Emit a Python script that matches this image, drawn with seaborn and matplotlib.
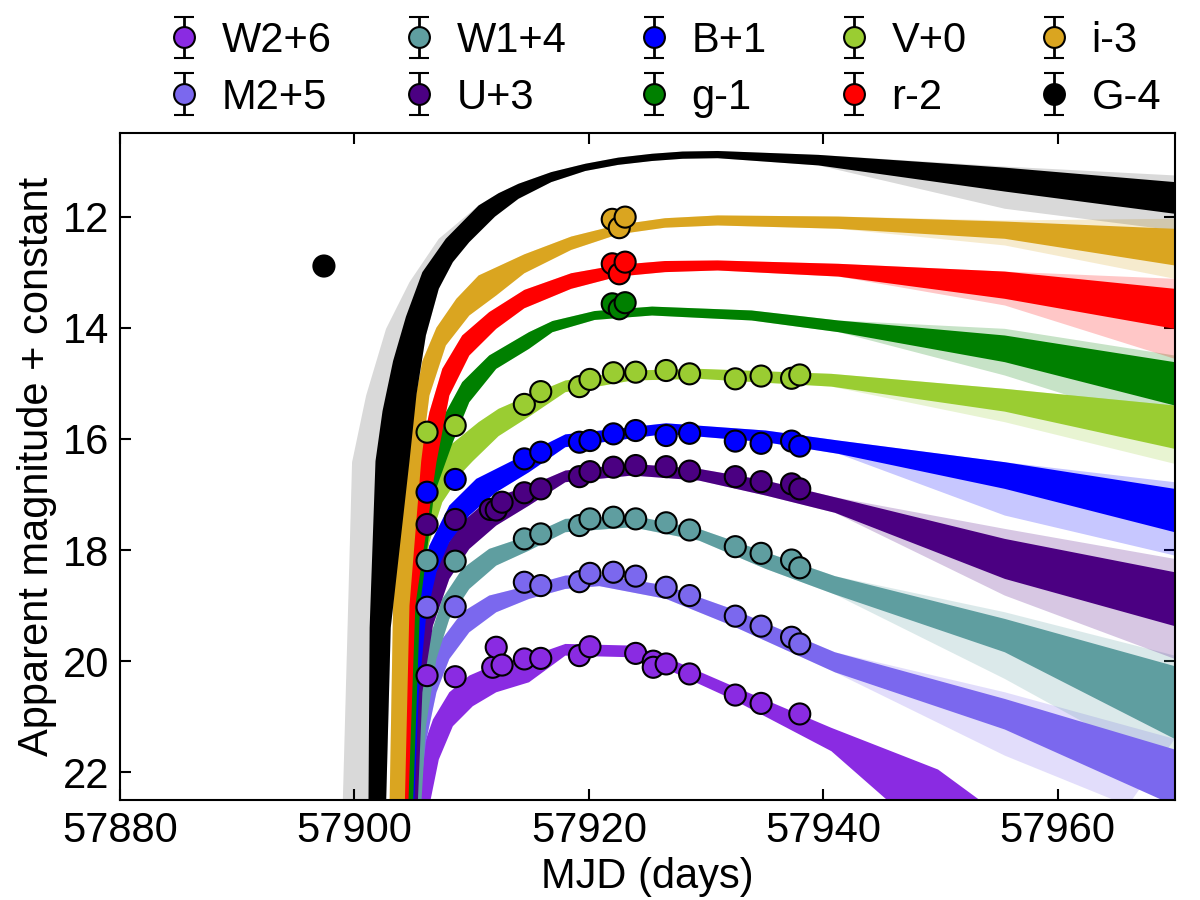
import numpy as np
import pandas as pd
import seaborn as sns
import matplotlib
matplotlib.use('Agg')
import matplotlib.pyplot as plt

sns.set_theme(style='ticks')
plt.rcParams['font.family'] = ['Liberation Sans', 'DejaVu Sans']
plt.rcParams['text.color'] = 'black'
plt.rcParams['axes.labelcolor'] = 'black'

# ---------------- photometry (plotted value = mag + offset) ----------------
bands = ['W2', 'M2', 'W1', 'U', 'B', 'g', 'V', 'r', 'i', 'G']
labels = ['W2+6', 'M2+5', 'W1+4', 'U+3', 'B+1', 'g-1', 'V+0', 'r-2', 'i-3', 'G-4']
colors = ['blueviolet', 'mediumslateblue', 'cadetblue', 'indigo', 'blue',
          'green', 'yellowgreen', 'red', 'goldenrod', 'black']

t_uv = [57906.2, 57908.6, 57914.5, 57915.9, 57919.2, 57920.1, 57922.1,
        57924.0, 57926.6, 57928.6, 57932.5, 57934.7, 57937.3, 57938.0]

W2_t = [57906.2, 57908.6, 57911.8, 57912.1, 57912.6, 57914.5, 57915.9, 57919.2,
        57920.1, 57924.0, 57925.5, 57925.5, 57926.6, 57928.6, 57932.5, 57934.7, 57938.0]
W2_m = [20.26, 20.28, 20.11, 19.75, 20.07, 19.96, 19.95, 19.90,
        19.74, 19.86, 20.00, 20.11, 20.05, 20.23, 20.61, 20.76, 20.95]
M2_m = [19.03, 19.02, 18.58, 18.64, 18.57, 18.42, 18.40,
        18.47, 18.67, 18.82, 19.19, 19.37, 19.57, 19.69]
W1_m = [18.19, 18.20, 17.80, 17.71, 17.56, 17.44, 17.41,
        17.44, 17.51, 17.64, 17.94, 18.06, 18.18, 18.32]
U_t = [57906.2, 57908.6, 57911.6, 57912.1, 57912.6, 57914.5, 57915.9, 57919.2, 57920.1,
       57922.1, 57924.0, 57926.6, 57928.6, 57932.5, 57934.7, 57937.3, 57938.0]
U_m = [17.54, 17.45, 17.27, 17.28, 17.14, 16.97, 16.90, 16.68, 16.59,
       16.51, 16.48, 16.50, 16.58, 16.68, 16.77, 16.81, 16.90]
B_m = [16.96, 16.73, 16.36, 16.24, 16.06, 16.03, 15.91,
       15.85, 15.94, 15.90, 16.04, 16.08, 16.04, 16.13]
V_m = [15.88, 15.76, 15.38, 15.15, 15.06, 14.93, 14.81,
       14.80, 14.77, 14.83, 14.92, 14.87, 14.91, 14.85]
t_opt = [57922.0, 57922.6, 57923.1]
g_m = [13.57, 13.66, 13.55]
r_m = [12.85, 13.03, 12.82]
i_m = [12.05, 12.20, 12.01]
G_t = [57897.4]
G_m = [12.89]

# ---------------- model bundles: bright edge / faint edge (MJD, plotted mag) ----------------
W2_top = [(57904.7, 22.6), (57905.5, 21.77), (57906.7, 21.05), (57908.1, 20.56), (57909.8, 20.26),
          (57912.1, 20.05), (57914.9, 19.92), (57918, 19.69), (57923.7, 19.72), (57926.6, 19.93),
          (57932.2, 20.44), (57940.7, 21.2), (57949.8, 21.95), (57954, 22.6)]
W2_bot = [(57906.4, 22.6), (57907.2, 21.77), (57908.4, 21.17), (57910.1, 20.81), (57912.1, 20.56),
          (57914.9, 20.38), (57918, 19.9), (57923.7, 19.93), (57926.6, 20.14), (57932.2, 20.68),
          (57940.7, 21.62), (57946, 22.6)]
M2_top = [(57903.5, 22.6), (57905.0, 21.28), (57906.1, 20.32), (57907.5, 19.6), (57909.2, 19.12),
          (57911.5, 18.82), (57914.9, 18.64), (57918, 18.46), (57920.9, 18.44), (57926.6, 18.64),
          (57932.2, 19.06), (57941, 19.84), (57955.5, 20.68), (57970, 21.59)]
M2_bot = [(57905.5, 22.6), (57906.1, 21.46), (57907.0, 20.56), (57908.1, 19.96), (57909.8, 19.48),
          (57912.1, 19.12), (57914.9, 18.88), (57918, 18.7), (57920.9, 18.65), (57926.6, 18.88),
          (57932.2, 19.36), (57941, 20.2), (57955.5, 21.23), (57970, 22.6)]
W1_top = [(57905.0, 22.6), (57905.5, 20.68), (57906.4, 19.6), (57907.5, 18.88), (57909.2, 18.34),
          (57911.5, 17.98), (57914.9, 17.74), (57918, 17.44), (57923.7, 17.38), (57929.4, 17.62),
          (57935.1, 18.04), (57941, 18.47), (57955.5, 19.24), (57970, 20.09)]
W1_bot = [(57905.7, 22.6), (57906.1, 21.17), (57907.0, 19.96), (57908.1, 19.24), (57909.8, 18.7),
          (57912.1, 18.28), (57914.9, 18.01), (57918, 17.68), (57923.7, 17.59), (57929.4, 17.83),
          (57935.1, 18.34), (57941, 18.8), (57955.5, 19.84), (57970, 21.4)]
U_top = [(57904.7, 22.6), (57905.5, 19.96), (57906.4, 18.76), (57907.5, 18.04), (57909.2, 17.5),
         (57911.5, 17.08), (57914.9, 16.85), (57918, 16.57), (57923.7, 16.45), (57929.4, 16.54),
         (57935.1, 16.75), (57941, 17.05), (57955.5, 17.8), (57970, 18.4)]
U_bot = [(57905.4, 22.6), (57905.8, 20.56), (57906.7, 19.36), (57908.1, 18.52), (57909.8, 17.98),
         (57912.1, 17.56), (57914.9, 17.2), (57918, 16.78), (57923.7, 16.66), (57929.4, 16.75),
         (57935.1, 17.02), (57941, 17.33), (57955.5, 18.52), (57970, 19.37)]
B_top = [(57904.1, 22.6), (57904.7, 19.96), (57905.3, 18.76), (57906.4, 17.92), (57908.1, 17.2),
         (57910.4, 16.72), (57913.8, 16.36), (57918, 15.92), (57926.6, 15.72), (57935.1, 15.85),
         (57941.3, 16.03), (57955.5, 16.42), (57970, 16.9)]
B_bot = [(57905.1, 22.6), (57905.5, 20.56), (57906.1, 19.24), (57907.0, 18.4), (57908.1, 17.86),
         (57909.8, 17.38), (57912.1, 16.96), (57914.9, 16.6), (57918, 16.15), (57926.6, 15.91),
         (57935.1, 16.06), (57941.3, 16.27), (57955.5, 16.9), (57970, 17.68)]
V_top = [(57903.5, 22.6), (57904.1, 18.76), (57904.7, 17.56), (57905.4, 16.8), (57906.4, 16.45),
         (57907.8, 16.18), (57910.6, 15.7), (57912.3, 15.46), (57914.9, 15.22), (57918, 14.95),
         (57923.7, 14.77), (57929.4, 14.74), (57940.7, 14.83), (57955.5, 15.1), (57970, 15.4)]
V_bot = [(57904.7, 22.6), (57905.0, 19.96), (57905.5, 18.76), (57906.4, 17.86), (57907.5, 17.14),
         (57909.2, 16.6), (57910.1, 16.4), (57912.3, 15.95), (57914.9, 15.6), (57918, 15.16),
         (57923.7, 14.95), (57929.4, 14.92), (57940.7, 15.06), (57955.5, 15.51), (57970, 16.18)]
g_top = [(57903.6, 22.6), (57904.2, 19.0), (57905.2, 17.2), (57906.4, 16.42), (57907.5, 15.64),
         (57909.2, 14.98), (57911.5, 14.5), (57914.9, 14.08), (57916.9, 13.88), (57920.5, 13.70),
         (57925.4, 13.62), (57933.9, 13.69), (57941.3, 13.87), (57955.5, 14.14), (57970, 14.62)]
g_bot = [(57905.0, 22.6), (57905.6, 19.0), (57906.8, 17.0), (57908.4, 16.06), (57909.8, 15.34),
         (57912.1, 14.74), (57914.9, 14.38), (57916.9, 14.08), (57920.5, 13.86), (57925.4, 13.78),
         (57933.9, 13.87), (57941.3, 14.08), (57955.5, 14.62), (57970, 15.4)]
r_top = [(57903.3, 22.6), (57903.8, 19.0), (57904.6, 17.2), (57905.5, 16.42), (57906.4, 15.52),
         (57907.5, 14.74), (57909.2, 14.14), (57911.5, 13.72), (57914.5, 13.32), (57918.5, 13.02),
         (57922.5, 12.87), (57926.5, 12.8), (57931, 12.79), (57941.3, 12.85), (57955.5, 12.99),
         (57970, 13.3)]
r_bot = [(57904.6, 22.6), (57905.2, 19.0), (57907.0, 16.42), (57908.1, 15.22), (57909.8, 14.5),
         (57912.1, 14.02), (57914.5, 13.65), (57918.5, 13.3), (57922.5, 13.08), (57926.5, 13.0),
         (57931, 12.97), (57941.3, 13.08), (57955.5, 13.48), (57970, 14.02)]
i_top = [(57903.0, 22.6), (57903.3, 19.0), (57903.8, 17.0), (57904.3, 16.4), (57905.0, 15.5),
         (57905.8, 14.6), (57907.0, 14.0), (57908.7, 13.48), (57910.6, 13.06), (57914.5, 12.68),
         (57918.5, 12.36), (57922.5, 12.15), (57926.5, 12.03), (57931, 11.98), (57941.3, 12.0),
         (57955.5, 12.09), (57970, 12.22)]
i_bot = [(57904.3, 22.6), (57904.7, 19.0), (57905.7, 16.4), (57906.4, 15.22), (57907.8, 14.32),
         (57909.8, 13.78), (57912.1, 13.42), (57914.5, 13.02), (57918.5, 12.6), (57922.5, 12.32),
         (57926.5, 12.2), (57931, 12.16), (57941.3, 12.22), (57955.5, 12.4), (57970, 12.88)]
G_top = [(57901.2, 22.6), (57901.3, 19.4), (57901.8, 16.4), (57902.4, 15.5), (57903.3, 14.6),
         (57904.4, 13.8), (57905.8, 13.0), (57907.8, 12.4), (57910.6, 11.8), (57912.3, 11.58),
         (57914.0, 11.41), (57916.8, 11.2), (57919.7, 11.05), (57922.5, 10.94), (57925.4, 10.87),
         (57928.0, 10.83), (57931.0, 10.82), (57939.6, 10.89), (57955.5, 11.12), (57970, 11.38)]
G_bot = [(57902.7, 22.6), (57903.1, 19.4), (57904.7, 16.4), (57905.3, 15.2), (57906.1, 14.14),
         (57907.2, 13.3), (57908.4, 12.82), (57909.8, 12.46), (57912.0, 12.0), (57914.0, 11.68),
         (57916.8, 11.38), (57919.7, 11.18), (57922.5, 11.07), (57925.4, 11.0), (57928.0, 10.96),
         (57931.0, 10.95), (57939.6, 11.08), (57955.5, 11.55), (57970, 11.95)]

# sparse outlying realisations: right-hand ends of the bundle (top, bottom)
fringe_top = {'M2': [(57955.5, 20.56), (57970, 21.4)], 'W1': [(57955.5, 19.12), (57970, 19.9)],
              'U': [(57955.5, 17.62), (57970, 18.16)], 'B': [(57955.5, 16.42), (57970, 16.78)],
              'V': [(57955.5, 15.1), (57970, 15.4)], 'g': [(57955.5, 14.02), (57970, 14.5)],
              'r': [(57955.5, 12.99), (57970, 13.12)], 'i': [(57955.5, 12.07), (57970, 12.04)],
              'G': [(57955.5, 11.1), (57970, 11.26)]}
fringe_bot = {'M2': [(57955.5, 21.7), (57966, 22.6)], 'W1': [(57955.5, 20.32), (57970, 22.0)],
              'U': [(57955.5, 18.82), (57970, 19.96)], 'B': [(57955.5, 17.38), (57970, 18.1)],
              'V': [(57955.5, 15.7), (57970, 16.45)], 'g': [(57955.5, 14.86), (57970, 15.82)],
              'r': [(57955.5, 13.6), (57970, 14.56)], 'i': [(57955.5, 12.52), (57970, 13.12)],
              'G': [(57955.5, 11.86), (57970, 12.25)]}
G_rise_fringe = [(57899.0, 22.6), (57899.8, 16.42), (57901.0, 15.22), (57902.7, 14.02),
                 (57904.7, 13.18), (57907.2, 12.4), (57910.6, 11.8)]

tops = [W2_top, M2_top, W1_top, U_top, B_top, g_top, V_top, r_top, i_top, G_top]
bots = [W2_bot, M2_bot, W1_bot, U_bot, B_bot, g_bot, V_bot, r_bot, i_bot, G_bot]
draw_order = ['W2', 'M2', 'W1', 'U', 'B', 'V', 'g', 'r', 'i', 'G']

pts = pd.concat([
    pd.DataFrame({'mjd': W2_t, 'mag': W2_m, 'band': 'W2'}),
    pd.DataFrame({'mjd': t_uv, 'mag': M2_m, 'band': 'M2'}),
    pd.DataFrame({'mjd': t_uv, 'mag': W1_m, 'band': 'W1'}),
    pd.DataFrame({'mjd': U_t, 'mag': U_m, 'band': 'U'}),
    pd.DataFrame({'mjd': t_uv, 'mag': B_m, 'band': 'B'}),
    pd.DataFrame({'mjd': t_uv, 'mag': V_m, 'band': 'V'}),
    pd.DataFrame({'mjd': t_opt, 'mag': g_m, 'band': 'g'}),
    pd.DataFrame({'mjd': t_opt, 'mag': r_m, 'band': 'r'}),
    pd.DataFrame({'mjd': t_opt, 'mag': i_m, 'band': 'i'}),
    pd.DataFrame({'mjd': G_t, 'mag': G_m, 'band': 'G'}),
], ignore_index=True)
palette = dict(zip(bands, colors))

fs = 30
fig = plt.figure(figsize=(12, 9), dpi=100)
ax = fig.add_axes([0.1, 0.111, 0.879, 0.741])


def poly(upper, lower):
    xy = np.array(upper + lower[::-1])
    return xy[:, 0], xy[:, 1]


for b in draw_order:
    k = bands.index(b)
    top, bot = tops[k], bots[k]
    if b in fringe_top:
        ft = top[:-2] + fringe_top[b]
        fb = bot[:-2] + fringe_bot[b]
        a = 0.22
        if b == 'G':
            ft = G_rise_fringe + top[9:-2] + fringe_top[b]
            a = 0.15
        x, y = poly(ft, fb)
        ax.fill(x, y, color=colors[k], alpha=a, lw=0, zorder=1)
    x, y = poly(top, bot)
    ax.fill(x, y, color=colors[k], alpha=1.0, lw=0, zorder=2)

sns.scatterplot(data=pts, x='mjd', y='mag', hue='band', palette=palette, s=230,
                edgecolor='black', linewidth=1.5, legend=False, zorder=5, ax=ax)

# legend proxies in the errorbar style of the original
handles = []
for b, c in zip(bands, colors):
    h = ax.errorbar([np.nan], [np.nan], yerr=[0.1], fmt='o', ms=15, mfc=c, mec='black',
                    mew=1.5, ecolor='black', elinewidth=2, capsize=7, capthick=2)
    handles.append(h)
fig.legend(handles, labels, ncol=5, loc='center', bbox_to_anchor=(0.55, 0.923),
           frameon=False, fontsize=fs, handletextpad=0.3, columnspacing=1.5,
           labelspacing=0.4, handlelength=1.2)

ax.set_xlim(57880, 57970)
ax.set_ylim(22.5, 10.5)
ax.set_xticks([57880, 57900, 57920, 57940, 57960])
ax.set_yticks([12, 14, 16, 18, 20, 22])
ax.set_xlabel('MJD (days)', fontsize=fs)
ax.set_ylabel('Apparent magnitude + constant', fontsize=fs)
ax.tick_params(direction='in', length=8, width=1.5, top=True, right=True,
               labelsize=fs, pad=8, colors='black')
for s in ax.spines.values():
    s.set_linewidth(1.5)
    s.set_color('black')

fig.savefig('out.png', dpi=100)
